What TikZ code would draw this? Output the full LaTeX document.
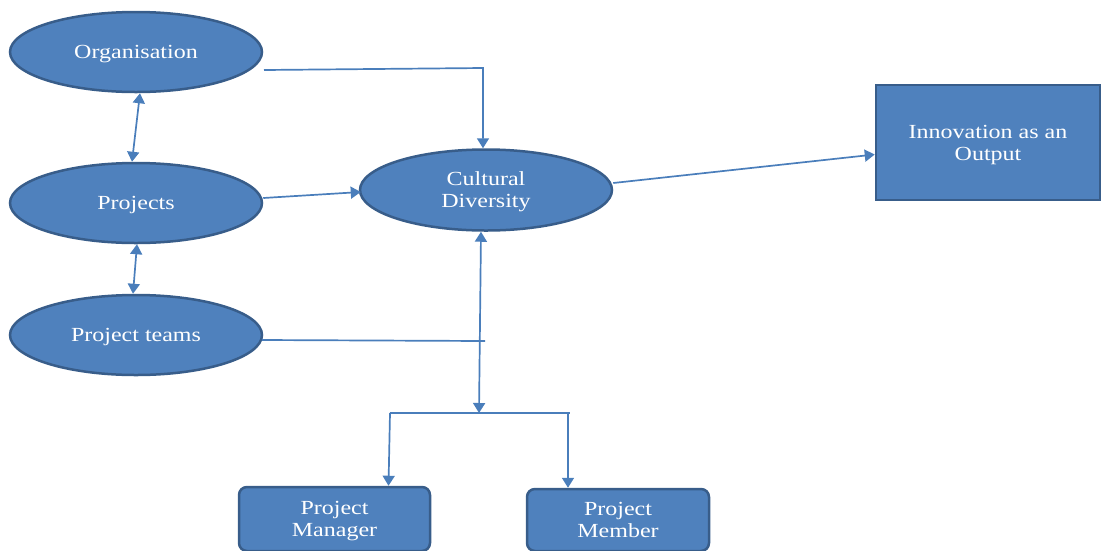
\documentclass[tikz,border=0pt]{standalone}
\usepackage{fontspec}
\setmainfont[FakeStretch=1.2]{Liberation Serif}
\usetikzlibrary{shapes.geometric,arrows.meta,calc}
\definecolor{fillblue}{HTML}{4F81BD}
\definecolor{edgeblue}{HTML}{385D8A}
\definecolor{linkblue}{HTML}{4A7EBB}
\begin{document}
\begin{tikzpicture}[x=1pt,y=-1pt,
  every node/.style={font=\fontsize{20}{22}\selectfont, text=white, align=center, text depth=-4pt},
  ell/.style={ellipse, draw=edgeblue, fill=fillblue, line width=2.5pt, minimum width=252pt, minimum height=80pt, inner sep=0pt},
  bx/.style={rectangle, draw=edgeblue, fill=fillblue, line width=2.5pt, inner sep=0pt},
  conn/.style={draw=linkblue, line width=1.7pt, >={Triangle[length=10pt,width=12pt]}}]
\useasboundingbox (0,0) rectangle (1101,550);
\node[ell] (org) at (136,52) {Organisation};
\node[ell] (pr) at (136,203) {Projects};
\node[ell] (pt) at (136,335) {Project teams};
\node[ell, minimum height=81pt, text depth=-6pt] (cd) at (486,190) {Cultural\\Diversity};
\node[bx, minimum width=224pt, minimum height=115pt, text depth=-6pt] (inn) at (988,142.5) {Innovation as an\\Output};
\node[bx, rounded corners=8pt, minimum width=191pt, minimum height=64pt, text depth=-6pt] (pm) at (334.5,519) {Project\\Manager};
\node[bx, rounded corners=8pt, minimum width=182pt, minimum height=62pt, text depth=-7pt] (mem) at (618,520) {Project\\Member};
% connectors
\coordinate (o1) at (264,70);
\coordinate (t1) at (262,340);
\coordinate (t2) at (485,341);
\coordinate (j) at (479,413);
\coordinate (jl) at (390,413);
\coordinate (jr) at (570,413);
\draw[conn,->] (o1) -- (483,68) -- ($(cd.north)+(-3,0)$);
\draw[conn,<->] ($(org.south)+(4,0)$) -- ($(pr.north)+(-4,0)$);
\draw[conn,<->] ($(pr.south)+(1,0)$) -- ($(pt.north)+(-3,0)$);
\draw[conn,->] ($(pr.east)+(0,-5)$) -- ($(cd.west)+(2,2)$);
\draw[conn,->] ($(cd.east)+(0,-7)$) -- ($(inn.west)+(0,12)$);
\draw[conn] (t1) -- (t2);
\draw[conn,<->] ($(cd.south)+(-5,0)$) -- (j);
\draw[conn] (jl) -- (jr);
\draw[conn,->] (jl) -- ($(pm.north)+(54,0)$);
\draw[conn,->] ($(jr)+(-2,0)$) -- ($(mem.north)+(-50,0)$);
\end{tikzpicture}
\end{document}
